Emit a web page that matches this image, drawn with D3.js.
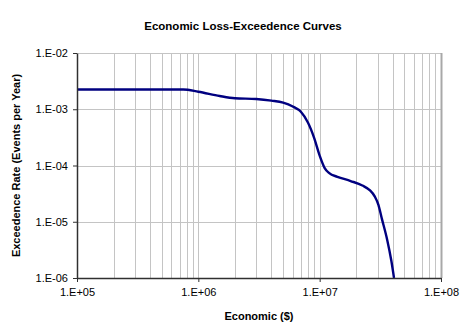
<!DOCTYPE html>
<html>
<head>
<meta charset="utf-8">
<script src="https://cdn.jsdelivr.net/npm/d3@7"></script>
<style>
  body { margin: 0; background: #fff; }
  text { font-family: "Liberation Sans", Arial, sans-serif; }
</style>
</head>
<body>
<svg id="chart" width="462" height="324"></svg>
<script>
// Loss values ($) and exceedence rates
const lossValues = [1e5, 7.5e5, 1e6, 1.5e6, 2e6, 3e6, 4e6, 5e6, 6e6, 7e6, 8e6, 9e6,
  1e7, 1.1e7, 1.2e7, 1.4e7, 1.8e7, 2.25e7, 2.6e7, 2.85e7, 3.05e7, 3.25e7, 3.6e7, 3.9e7, 4.1e7];
const rateValues = [2.25e-3, 2.25e-3, 2.05e-3, 1.72e-3, 1.57e-3, 1.52e-3, 1.42e-3, 1.31e-3, 1.12e-3, 9.0e-4, 5.8e-4, 3.1e-4,
  1.5e-4, 9.0e-5, 7.3e-5, 6.3e-5, 5.3e-5, 4.4e-5, 3.6e-5, 2.8e-5, 2.0e-5, 1.15e-5, 4.8e-6, 2.0e-6, 1.0e-6];

const xTicks = [1e5, 1e6, 1e7, 1e8];
const yTicks = [1e-6, 1e-5, 1e-4, 1e-3, 1e-2];
const xTickLabels = ['1.E+05', '1.E+06', '1.E+07', '1.E+08'];
const yTickLabels = ['1.E-06', '1.E-05', '1.E-04', '1.E-03', '1.E-02'];

const title = 'Economic Loss-Exceedence Curves';
const xTitle = 'Economic ($)';
const yTitle = 'Exceedence Rate (Events per Year)';

const svg = d3.select('#chart');
const margin = { left: 77, right: 21, top: 53, bottom: 46 };
const W = 462, H = 324;
const iw = W - margin.left - margin.right;
const ih = H - margin.top - margin.bottom;

const x = d3.scaleLog().domain([1e5, 1e8]).range([0, iw]);
const y = d3.scaleLog().domain([1e-6, 1e-2]).range([ih, 0]);

const g = svg.append('g').attr('transform', `translate(${margin.left},${margin.top})`);

// Minor + major vertical grid lines
g.append('g').selectAll('line')
  .data(x.ticks())
  .join('line')
  .attr('x1', d => Math.round(x(d)) + 0.5)
  .attr('x2', d => Math.round(x(d)) + 0.5)
  .attr('y1', 0).attr('y2', ih)
  .attr('stroke', '#c4c4c4')
  .attr('stroke-width', 1);

// Horizontal grid at decades
g.append('g').selectAll('line')
  .data(yTicks)
  .join('line')
  .attr('x1', 0).attr('x2', iw)
  .attr('y1', d => Math.round(y(d)) + 0.5)
  .attr('y2', d => Math.round(y(d)) + 0.5)
  .attr('stroke', '#c4c4c4')
  .attr('stroke-width', 1);

// Right edge a bit heavier, like the reference
g.append('line')
  .attr('x1', iw + 0.5).attr('x2', iw + 0.5)
  .attr('y1', 0).attr('y2', ih)
  .attr('stroke', '#a8a8a8')
  .attr('stroke-width', 2);

// Curve (smoothed, as the source spreadsheet did)
const line = d3.line()
  .x((d, i) => x(lossValues[i]))
  .y(d => y(d))
  .curve(d3.curveMonotoneX);

g.append('path')
  .datum(rateValues)
  .attr('d', line)
  .attr('fill', 'none')
  .attr('stroke', '#000080')
  .attr('stroke-width', 2.4)
  .attr('stroke-linejoin', 'round');

// Axes
const xAxis = d3.axisBottom(x)
  .tickValues(xTicks)
  .tickFormat((d, i) => xTickLabels[i])
  .tickSize(4)
  .tickSizeOuter(0)
  .tickPadding(6);
const yAxis = d3.axisLeft(y)
  .tickValues(yTicks)
  .tickFormat((d, i) => yTickLabels[i])
  .tickSize(4)
  .tickSizeOuter(0)
  .tickPadding(5);

const gx = g.append('g').attr('transform', `translate(0,${ih})`).call(xAxis);
const gy = g.append('g').call(yAxis);
[gx, gy].forEach(a => {
  a.select('.domain').attr('stroke', '#303030').attr('stroke-width', 1.5);
  a.selectAll('.tick line').attr('stroke', '#303030');
  a.selectAll('.tick text')
    .attr('font-family', '"Liberation Sans", Arial, sans-serif')
    .attr('font-size', 11)
    .attr('fill', '#000');
});

// Titles
svg.append('text')
  .attr('x', 243).attr('y', 30)
  .attr('text-anchor', 'middle')
  .attr('font-size', 11.5).attr('font-weight', 'bold')
  .text(title);

svg.append('text')
  .attr('x', margin.left + iw / 2).attr('y', 320)
  .attr('text-anchor', 'middle')
  .attr('font-size', 11).attr('font-weight', 'bold')
  .text(xTitle);

svg.append('text')
  .attr('transform', `translate(20,${margin.top + ih / 2}) rotate(-90)`)
  .attr('text-anchor', 'middle')
  .attr('font-size', 11).attr('font-weight', 'bold')
  .text(yTitle);
</script>
</body>
</html>
